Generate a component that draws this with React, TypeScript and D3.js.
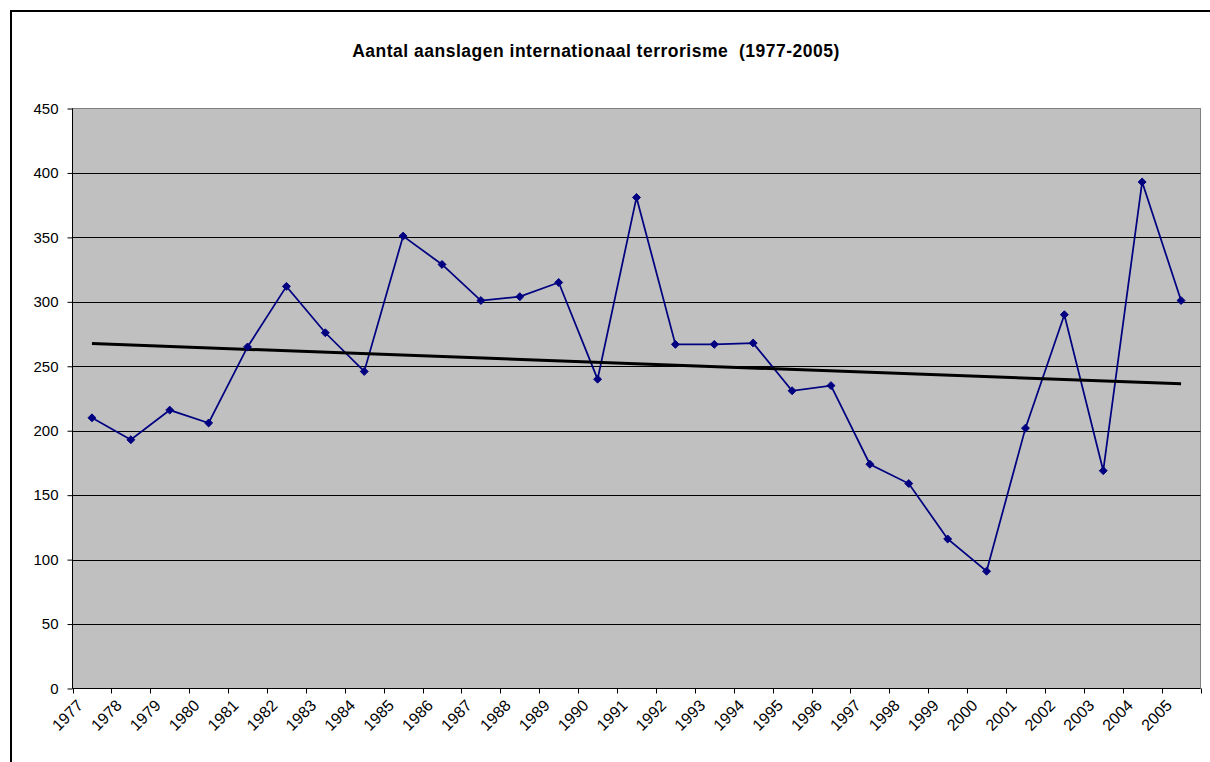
import { useEffect, useRef } from "react";
import * as d3 from "d3";

const years = [
  "1977", "1978", "1979", "1980", "1981", "1982", "1983", "1984", "1985", "1986",
  "1987", "1988", "1989", "1990", "1991", "1992", "1993", "1994", "1995", "1996",
  "1997", "1998", "1999", "2000", "2001", "2002", "2003", "2004", "2005",
];
const attacks = [
  210, 193, 216, 206, 265, 312, 276, 246, 351, 329,
  301, 304, 315, 240, 381, 267, 267, 268, 231, 235,
  174, 159, 116, 91, 202, 290, 169, 393, 301,
];
const yTicks = [0, 50, 100, 150, 200, 250, 300, 350, 400, 450];
const title = "Aantal aanslagen internationaal terrorisme\u00a0\u00a0(1977-2005)";

const W = 1210;
const H = 762;
const FONT = "'Liberation Sans', Arial, sans-serif";

export default function App() {
  const svgRef = useRef<SVGSVGElement>(null);

  useEffect(() => {
    document.body.style.margin = "0";
    if (!svgRef.current) return;

    const svg = d3.select(svgRef.current);
    svg.selectAll("*").remove();

    const plot = { left: 72.5, right: 1200.5, top: 108.5, bottom: 688.5 };

    const x = d3.scaleBand()
      .domain(years)
      .range([plot.left, plot.right])
      .padding(0);

    const y = d3.scaleLinear()
      .domain([0, 450])
      .range([plot.bottom, plot.top]);

    const cx = (d: string) => x(d)! + x.bandwidth() / 2;

    // background + outer frame (runs off the right/bottom edge)
    svg.append("rect").attr("width", W).attr("height", H).attr("fill", "#fff");
    svg.append("rect")
      .attr("x", 11).attr("y", 11)
      .attr("width", W + 20).attr("height", H + 20)
      .attr("fill", "none")
      .attr("stroke", "#000")
      .attr("stroke-width", 2);

    // title
    svg.append("text")
      .attr("x", 596)
      .attr("y", 57)
      .attr("text-anchor", "middle")
      .attr("font-family", FONT)
      .attr("font-size", 17.5)
      .attr("letter-spacing", 0.5)
      .attr("font-weight", "bold")
      .text(title);

    // plot area
    svg.append("rect")
      .attr("x", plot.left).attr("y", plot.top)
      .attr("width", plot.right - plot.left)
      .attr("height", plot.bottom - plot.top)
      .attr("fill", "#c0c0c0")
      .attr("stroke", "#808080")
      .attr("stroke-width", 1);

    // gridlines
    svg.append("g")
      .selectAll("line")
      .data(yTicks.filter(t => t > 0 && t < 450))
      .enter().append("line")
      .attr("x1", plot.left).attr("x2", plot.right)
      .attr("y1", d => Math.round(y(d)) + 0.5)
      .attr("y2", d => Math.round(y(d)) + 0.5)
      .attr("stroke", "#000")
      .attr("stroke-width", 1);

    // y axis
    const yAxis = d3.axisLeft(y)
      .tickValues(yTicks)
      .tickSize(5)
      .tickPadding(9)
      .tickFormat(d3.format("d"));
    const gy = svg.append("g")
      .attr("transform", `translate(${plot.left},0)`)
      .call(yAxis);
    gy.select(".domain").remove();
    gy.append("line")
      .attr("x1", 0).attr("x2", 0)
      .attr("y1", plot.top).attr("y2", plot.bottom)
      .attr("stroke", "#000");
    gy.selectAll("text")
      .attr("font-family", FONT)
      .attr("font-size", 15)
      .attr("fill", "#000");

    // x axis: ticks on category boundaries
    const gx = svg.append("g");
    gx.append("line")
      .attr("x1", plot.left).attr("x2", plot.right)
      .attr("y1", plot.bottom).attr("y2", plot.bottom)
      .attr("stroke", "#000");
    const boundaries = years.map(d => x(d)!).concat([plot.right]);
    gx.selectAll(".tick")
      .data(boundaries)
      .enter().append("line")
      .attr("x1", d => Math.round(d) + 0.5).attr("x2", d => Math.round(d) + 0.5)
      .attr("y1", plot.bottom).attr("y2", plot.bottom + 5)
      .attr("stroke", "#000");
    gx.selectAll(".lbl")
      .data(years)
      .enter().append("text")
      .attr("font-family", FONT)
      .attr("font-size", 16)
      .attr("text-anchor", "end")
      .attr("transform", d => `translate(${cx(d) - 8},${plot.bottom + 18}) rotate(-45)`)
      .text(d => d);

    // series
    const pts = years.map((d, i) => [cx(d), y(attacks[i])] as [number, number]);
    svg.append("path")
      .attr("d", d3.line()(pts))
      .attr("fill", "none")
      .attr("stroke", "#000080")
      .attr("stroke-width", 1.75);

    // linear trendline (least squares)
    const idx = attacks.map((_, i) => i + 1);
    const mx = d3.mean(idx)!;
    const my = d3.mean(attacks)!;
    const slope = d3.sum(idx, (v, i) => (v - mx) * (attacks[i] - my)) / d3.sum(idx, v => (v - mx) ** 2);
    const icpt = my - slope * mx;
    svg.append("line")
      .attr("x1", cx(years[0])).attr("y1", y(icpt + slope * 1))
      .attr("x2", cx(years[years.length - 1])).attr("y2", y(icpt + slope * years.length))
      .attr("stroke", "#000")
      .attr("stroke-width", 3);

    // markers
    svg.append("g")
      .selectAll("path")
      .data(pts)
      .enter().append("path")
      .attr("d", d3.symbol().type(d3.symbolDiamond2).size(40)())
      .attr("transform", d => `translate(${d[0]},${d[1]})`)
      .attr("fill", "#000080")
      .attr("stroke", "#000080")
      .attr("stroke-width", 1);
  }, []);

  return <svg ref={svgRef} width={W} height={H} style={{ display: "block" }} />;
}
